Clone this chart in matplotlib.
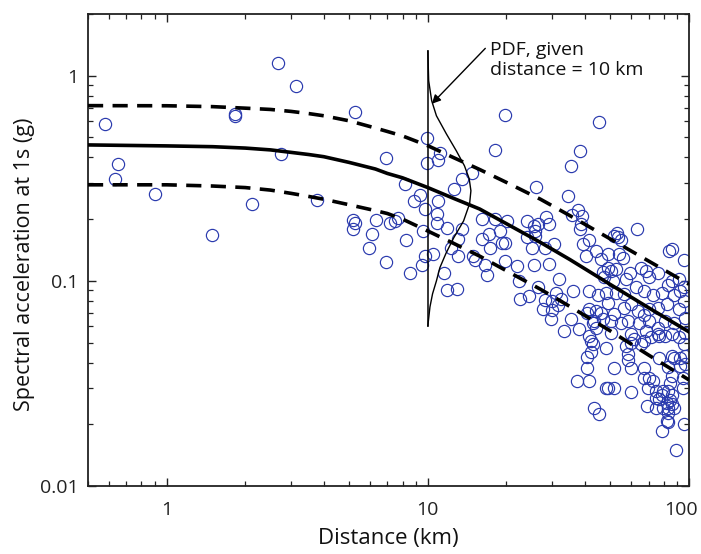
import matplotlib
matplotlib.use("Agg")
import matplotlib.pyplot as plt
import matplotlib.transforms as mtransforms
from matplotlib.ticker import LogLocator, NullFormatter, FixedLocator, FixedFormatter

plt.rcParams['font.family'] = ['Open Sans', 'DejaVu Sans']

# ---------------- data ----------------
dist = [
    0.58, 0.65, 0.635, 0.905, 1.49, 1.82, 1.83, 2.12, 2.67, 3.13, 2.74, 3.77, 5.27, 6.9,
    5.16, 5.27, 5.16, 6.35, 6.09, 5.94, 6.93, 7.14,
    19.8, 45.2, 9.97, 18.1, 38.4, 11.1, 9.97, 10.96, 35.2, 14.8, 13.5, 12.6, 8.2, 9.31,
    8.85, 10.96, 9.73, 10.8, 26.0, 34.4, 37.5, 39.1, 7.46, 7.69, 10.8, 11.8, 9.6, 13.5,
    8.28, 8.53, 9.73, 10.5, 9.46, 11.5, 11.8, 12.9, 12.3, 13.1, 13.1, 14.9, 15.2, 16.1,
    17.1, 16.1, 17.3, 16.6, 16.8, 18.1, 20.1, 18.9, 19.2, 19.8, 19.8, 21.9, 22.3, 22.6,
    24.3, 24.0, 25.4, 24.0, 25.8, 25.8, 25.0, 25.4, 28.4, 26.5, 38.2, 53.2, 63.5, 35.6,
    29.0, 38.5, 51.7, 53.5, 41.3, 39.2, 30.3, 28.2, 83.8, 95.6, 29.0, 44.0, 46.0, 49.0,
    54.0, 56.1, 40.3, 49.0, 50.3, 52.6, 46.9, 47.4, 51.3, 57.5, 59.2, 65.7, 68.7, 70.2,
    76.3, 85.8, 91.2, 83.0, 92.5, 95.6, 88.0, 95.6, 78.5, 73.0, 67.5, 62.8, 56.6, 52.6,
    48.1, 44.8, 49.0, 41.3, 35.9, 31.7, 26.5, 31.0, 28.2, 27.6, 31.4, 29.5, 35.3, 41.3,
    44.0, 46.0, 46.9, 51.7, 56.6, 60.1, 64.0, 67.5, 70.2, 76.3, 82.2, 91.2, 96.3, 80.7,
    88.0, 96.3, 43.0, 44.0, 50.3, 55.0, 58.6, 64.5, 70.2, 76.3, 33.1, 37.9, 41.3, 50.3,
    60.1, 68.7, 77.0,
    30.0, 30.0, 32.3, 40.8, 43.2, 42.1, 40.8, 40.8, 37.3, 41.3, 48.1, 43.2, 45.3, 48.9,
    51.7, 60.1, 51.7, 58.2, 60.1, 69.2, 74.5, 79.1, 82.2, 83.0, 85.8, 84.5, 83.0, 78.5,
    86.4, 89.4, 96.0, 95.0, 95.0, 92.5, 96.3, 88.0, 96.3, 67.5, 73.0, 69.6, 74.9, 77.0,
    79.3,
    43.0, 42.1, 58.6, 57.5, 60.1, 65.7, 61.8, 67.5, 71.8, 76.3, 80.7, 85.8, 91.2, 95.6,
    77.0, 85.8, 92.5, 67.5, 70.2, 83.0, 85.8, 84.5, 79.3, 74.9, 82.2, 83.0, 83.0, 88.0,
    48.1, 85.8, 55.0,
]
sa = [
    0.585, 0.373, 0.313, 0.265, 0.167, 0.638, 0.648, 0.238, 1.15, 0.887, 0.415, 0.248, 0.665, 0.398,
    0.199, 0.191, 0.180, 0.199, 0.169, 0.144, 0.123, 0.192,
    0.643, 0.597, 0.497, 0.436, 0.431, 0.418, 0.375, 0.39, 0.364, 0.335, 0.313, 0.28, 0.296, 0.262,
    0.245, 0.245, 0.224, 0.213, 0.287, 0.258, 0.221, 0.207, 0.196, 0.202, 0.191, 0.181, 0.175, 0.179,
    0.158, 0.109, 0.132, 0.135, 0.12, 0.109, 0.09, 0.091, 0.145, 0.16, 0.132, 0.132, 0.127, 0.2,
    0.169, 0.16, 0.145, 0.12, 0.107, 0.2, 0.195, 0.175, 0.153, 0.153, 0.125, 0.118, 0.1, 0.0814,
    0.0845, 0.196, 0.185, 0.163, 0.175, 0.166, 0.145, 0.12, 0.205, 0.19, 0.179, 0.172, 0.18, 0.209,
    0.19, 0.19, 0.166, 0.163, 0.159, 0.152, 0.152, 0.145, 0.14, 0.127, 0.121, 0.14, 0.128, 0.135,
    0.135, 0.129, 0.132, 0.116, 0.112, 0.114, 0.11, 0.104, 0.1, 0.102, 0.109, 0.116, 0.112, 0.104,
    0.109, 0.1, 0.102, 0.095, 0.089, 0.093, 0.085, 0.08, 0.087, 0.085, 0.089, 0.093, 0.086, 0.087,
    0.087, 0.085, 0.078, 0.089, 0.089, 0.102, 0.093, 0.087, 0.081, 0.073, 0.076, 0.065, 0.065, 0.073,
    0.071, 0.07, 0.065, 0.069, 0.074, 0.077, 0.071, 0.068, 0.073, 0.074, 0.077, 0.073, 0.066, 0.064,
    0.062, 0.056, 0.062, 0.059, 0.064, 0.062, 0.064, 0.062, 0.064, 0.059, 0.057, 0.058, 0.054, 0.056,
    0.055, 0.057, 0.054,
    0.08, 0.0725, 0.0815, 0.07, 0.064, 0.051, 0.0425, 0.0378, 0.0325, 0.0325, 0.0472, 0.024, 0.0224, 0.0302,
    0.0302, 0.0286, 0.0378, 0.041, 0.0378, 0.0246, 0.024, 0.0186, 0.0208, 0.0227, 0.025, 0.0264, 0.0291, 0.0278,
    0.0278, 0.015, 0.02, 0.0336, 0.0302, 0.0386, 0.0395, 0.042, 0.043, 0.0335, 0.0325, 0.0302, 0.0291, 0.0265,
    0.0241,
    0.049, 0.045, 0.044, 0.048, 0.05, 0.049, 0.052, 0.051, 0.053, 0.055, 0.054, 0.055, 0.053, 0.049,
    0.042, 0.043, 0.042, 0.0375, 0.0335, 0.038, 0.0345, 0.0318, 0.0291, 0.0268, 0.0255, 0.024, 0.0204, 0.0241,
    0.03, 0.143, 0.159,
]

curve_dist = [0.5, 1, 1.5, 2, 2.5, 3, 3.5, 4, 5, 6.3, 7, 8, 10, 12.6, 15.8, 20, 27, 35, 50, 70, 100]
median_sa = [0.46, 0.455, 0.451, 0.444, 0.435, 0.423, 0.413, 0.403, 0.378, 0.351, 0.334, 0.318,
             0.285, 0.252, 0.224, 0.19, 0.154, 0.127, 0.096, 0.074, 0.0564]
upper_sa = [0.715, 0.714, 0.707, 0.695, 0.685, 0.67, 0.654, 0.638, 0.603, 0.556, 0.535, 0.509,
            0.456, 0.398, 0.349, 0.302, 0.25, 0.208, 0.16, 0.125, 0.0963]
lower_sa = [0.294, 0.294, 0.29, 0.285, 0.277, 0.267, 0.258, 0.25, 0.235, 0.22, 0.213, 0.2,
            0.175, 0.152, 0.132, 0.112, 0.091, 0.075, 0.057, 0.0435, 0.0329]

pdf_distance = 10
pdf_sa = [1.32, 0.945, 0.755, 0.638, 0.521, 0.431, 0.364, 0.315, 0.275, 0.238, 0.196,
          0.162, 0.136, 0.116, 0.1, 0.0865, 0.0747, 0.0603]
pdf_density = [0.0, 0.02, 0.09, 0.2, 0.43, 0.66, 0.85, 0.96, 1.0, 0.97, 0.83,
               0.6, 0.42, 0.28, 0.2, 0.11, 0.05, 0.0]

x_ticks = [1, 10, 100]
x_tick_labels = ['1', '10', '100']
y_ticks = [0.01, 0.1, 1]
y_tick_labels = ['0.01', '0.1', '1']

annotation_text = 'PDF, given\ndistance = 10 km'

# ---------------- figure ----------------
W, H = 701, 554
fig = plt.figure(figsize=(W / 100, H / 100), dpi=100)
ax = fig.add_axes([88 / W, 1 - 486 / H, (689 - 88) / W, (486 - 14) / H])
ax.set_xscale('log')
ax.set_yscale('log')
ax.set_xlim(0.5, 100)
ax.set_ylim(0.01, 2)

ax.plot(dist, sa, linestyle='none', marker='o', markerfacecolor='none',
        markeredgecolor='#2a3aae', markersize=8.8, markeredgewidth=0.85, zorder=2)

ax.plot(curve_dist, median_sa, color='black', lw=2.6, solid_joinstyle='round', zorder=3)
ax.plot(curve_dist, upper_sa, color='black', lw=2.6, dashes=(4.2, 2.6), zorder=3)
ax.plot(curve_dist, lower_sa, color='black', lw=2.6, dashes=(4.2, 2.6), zorder=3)

# PDF at 10 km: density mapped to a horizontal offset in log-x
pdf_x = [pdf_distance * 10 ** (0.165 * d) for d in pdf_density]
ax.plot([pdf_distance, pdf_distance], [pdf_sa[0], pdf_sa[-1]], color='black', lw=1.1, zorder=4)
ax.plot(pdf_x, pdf_sa, color='black', lw=1.0, zorder=4)

ax.annotate('', xy=(10.36, 0.73), xytext=(16.6, 1.36),
            arrowprops=dict(arrowstyle='-|>', color='black', lw=1.0,
                            mutation_scale=13, shrinkA=0, shrinkB=0), zorder=5)
ax.text(17.3, 1.47, annotation_text, ha='left', va='top', fontsize=14, linespacing=1.1,
        color='#111111')

# ---------------- axes styling ----------------
ax.xaxis.set_major_locator(FixedLocator(x_ticks))
ax.xaxis.set_major_formatter(FixedFormatter(x_tick_labels))
ax.yaxis.set_major_locator(FixedLocator(y_ticks))
ax.yaxis.set_major_formatter(FixedFormatter(y_tick_labels))
ax.xaxis.set_minor_locator(LogLocator(base=10, subs=range(2, 10)))
ax.yaxis.set_minor_locator(LogLocator(base=10, subs=range(2, 10)))
ax.xaxis.set_minor_formatter(NullFormatter())
ax.yaxis.set_minor_formatter(NullFormatter())

ax.tick_params(which='both', direction='in', top=True, right=True, colors='#222222',
               labelsize=14)
ax.tick_params(which='major', length=6, width=1.0)
ax.tick_params(which='minor', length=3.5, width=0.9)
ax.tick_params(axis='x', which='major', pad=11)
ax.tick_params(axis='y', which='major', pad=7)
for s in ax.spines.values():
    s.set_linewidth(1.3)
    s.set_color('#222222')

ax.set_xlabel('Distance (km)', fontsize=16, color='#111111')
ax.xaxis.set_label_coords(0.5, -0.088)
ax.xaxis.label.set_va('top')
ax.set_ylabel('Spectral acceleration at 1s (g)', fontsize=15.5, color='#111111')
ax.yaxis.set_label_coords(-0.105, 0.47)
ax.yaxis.label.set_va('center')

# keep the right-most tick label inside the picture, as in the reference
fig.canvas.draw()
xlabels = ax.get_xticklabels()
shift = mtransforms.ScaledTranslation(-8 / 100, 0, fig.dpi_scale_trans)
xlabels[-1].set_transform(xlabels[-1].get_transform() + shift)

fig.savefig('out.png', dpi=100)
